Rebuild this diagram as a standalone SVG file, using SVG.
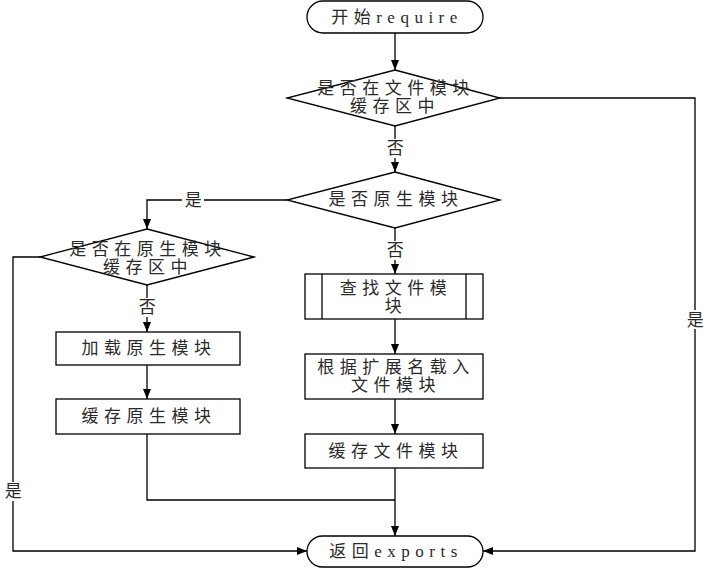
<svg xmlns="http://www.w3.org/2000/svg" width="708" height="572" viewBox="0 0 708 572">
<style>
.s{fill:#fff;stroke:#000;stroke-width:1.3}
.c{fill:none;stroke:#000;stroke-width:1.3}
.t{font-family:"Liberation Serif","Noto Sans CJK SC",serif;font-size:17px;fill:#2a2a2a;letter-spacing:5.5px;text-anchor:middle}
.lb{fill:#fff;stroke:none}
</style>
<defs>
<marker id="a" markerUnits="userSpaceOnUse" markerWidth="10" markerHeight="10" viewBox="0 0 10 10" refX="10" refY="5" orient="auto">
<path d="M0,1 L10,5 L0,9 Z" fill="#000"/>
</marker>
</defs>
<g id="connectors">
<path class="c" d="M395,33 V70" marker-end="url(#a)"/>
<path class="c" d="M395,126 V172" marker-end="url(#a)"/>
<path class="c" d="M500,98 H695 V551 H483" marker-end="url(#a)"/>
<path class="c" d="M287,200 H147 V229" marker-end="url(#a)"/>
<path class="c" d="M395,228 V274" marker-end="url(#a)"/>
<path class="c" d="M40,257 H13 V551 H307" marker-end="url(#a)"/>
<path class="c" d="M147,285 V332" marker-end="url(#a)"/>
<path class="c" d="M147,365 V399" marker-end="url(#a)"/>
<path class="c" d="M147,434 V500 H395"/>
<path class="c" d="M395,319 V354" marker-end="url(#a)"/>
<path class="c" d="M395,399 V434" marker-end="url(#a)"/>
<path class="c" d="M395,468 V536" marker-end="url(#a)"/>
<rect class="lb" x="384" y="139" width="22" height="19"/>
<text class="t" x="398" y="154">否</text>
<rect class="lb" x="384" y="241" width="22" height="19"/>
<text class="t" x="398" y="256">否</text>
<rect class="lb" x="136" y="298" width="22" height="19"/>
<text class="t" x="150" y="313">否</text>
<rect class="lb" x="182" y="191" width="22" height="19"/>
<text class="t" x="196" y="206">是</text>
<rect class="lb" x="684" y="310" width="22" height="19"/>
<text class="t" x="698" y="326">是</text>
<rect class="lb" x="2" y="482" width="22" height="19"/>
<text class="t" x="16" y="497">是</text>
</g>
<g id="start">
<rect class="s" x="307" y="1" width="176" height="32" rx="16"/>
<text class="t" x="397" y="23">开始require</text>
</g>
<g id="d1">
<polygon class="s" points="395,70 500,98 395,126 287,98"/>
<text class="t" x="396" y="94">是否在文件模块</text>
<text class="t" x="395" y="112">缓存区中</text>
</g>
<g id="d2">
<polygon class="s" points="395,172 500,200 395,228 287,200"/>
<text class="t" x="396" y="205">是否原生模块</text>
</g>
<g id="d3">
<polygon class="s" points="147,229 254,257 147,285 40,257"/>
<text class="t" x="148" y="255">是否在原生模块</text>
<text class="t" x="148" y="273">缓存区中</text>
</g>
<g id="b1">
<rect class="s" x="56" y="332" width="184" height="33"/>
<text class="t" x="149" y="354">加载原生模块</text>
</g>
<g id="b2">
<rect class="s" x="56" y="399" width="184" height="35"/>
<text class="t" x="149" y="422">缓存原生模块</text>
</g>
<g id="p1">
<rect class="s" x="305" y="274" width="178" height="45"/>
<path class="c" d="M322,274 V319 M466,274 V319"/>
<text class="t" x="396" y="294">查找文件模</text>
<text class="t" x="396" y="312">块</text>
</g>
<g id="b3">
<rect class="s" x="305" y="354" width="178" height="45"/>
<text class="t" x="396" y="373">根据扩展名载入</text>
<text class="t" x="396" y="391">文件模块</text>
</g>
<g id="b4">
<rect class="s" x="305" y="434" width="178" height="34"/>
<text class="t" x="396" y="457">缓存文件模块</text>
</g>
<g id="end">
<rect class="s" x="307" y="536" width="176" height="31" rx="15.5"/>
<text class="t" x="396" y="557">返回exports</text>
</g>
</svg>
